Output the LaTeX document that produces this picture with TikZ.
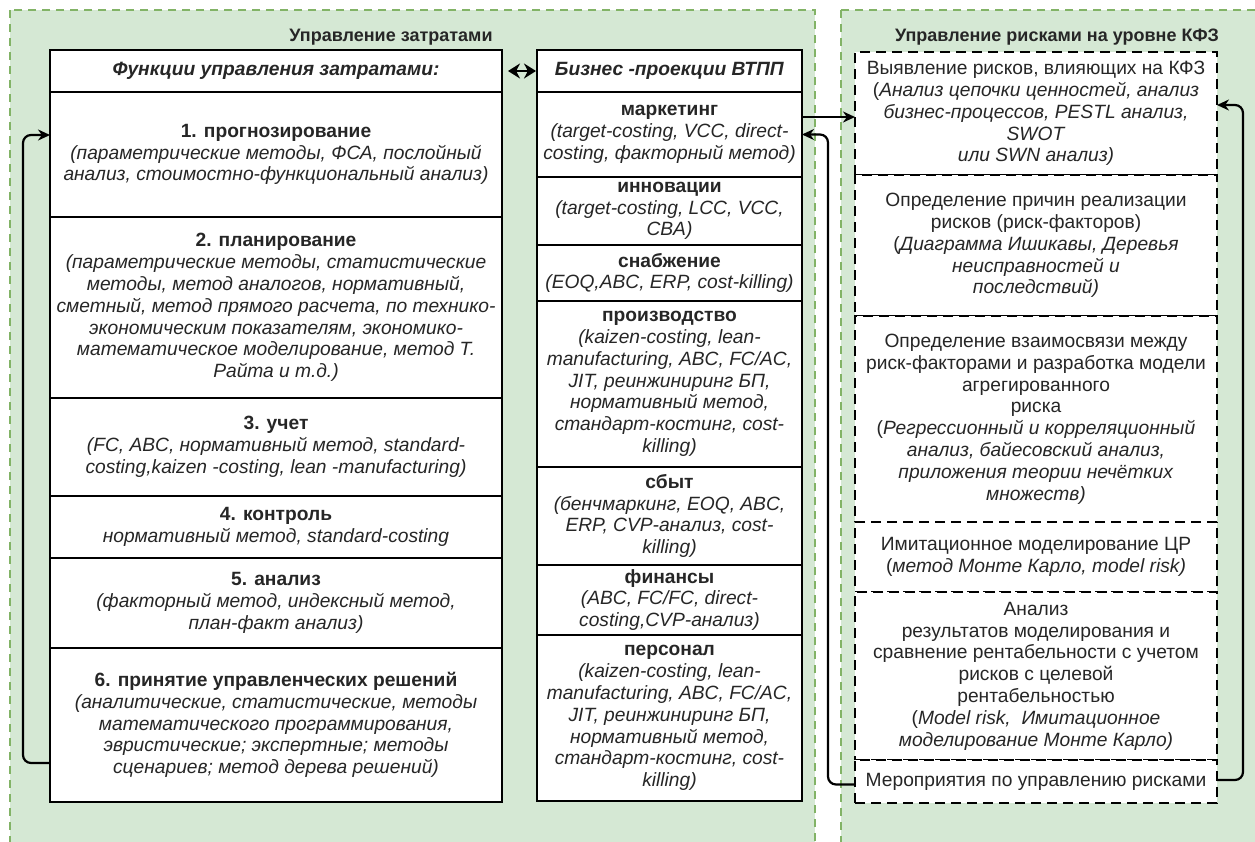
\documentclass[tikz,border=0pt]{standalone}
\usepackage{fontspec}
\setmainfont{Liberation Sans}
\usetikzlibrary{arrows.meta}
\definecolor{panelfill}{HTML}{D5E8D4}
\definecolor{panelline}{HTML}{82B366}
\definecolor{txt}{HTML}{262626}
\newcommand\ti[1]{\textit{#1}}
\begin{document}
\begin{tikzpicture}[x=1pt,y=-1pt,
  panel/.style={fill=panelfill,draw=panelline,line width=2.6pt,dash pattern=on 8pt off 6pt},
  boxbase/.style={draw=black,line width=2.2pt,fill=white,inner sep=0pt,outer sep=0pt,
    align=center,text=txt,font=\fontsize{19.2}{21.8}\selectfont},
  lcell/.style={boxbase,minimum width=452pt},
  mcell/.style={boxbase,minimum width=265pt},
  rcell/.style={boxbase,minimum width=362pt,dash pattern=on 10pt off 6pt},
  ptitle/.style={inner sep=0pt,text=txt,font=\fontsize{18}{21}\selectfont\bfseries},
  conn/.style={draw=black,line width=2.2pt,rounded corners=8pt,-{Stealth[length=12pt,width=11pt]}},
  dtip/.style={line width=2.2pt,{Stealth[length=12pt,width=15pt]}-{Stealth[length=12pt,width=15pt]}}
]
\useasboundingbox (0,0) rectangle (1255,841);
\clip (0,0) rectangle (1255,841);
\fill[white] (0,0) rectangle (1255,841);

% two background panels
\draw[panel] (10,10) rectangle (815,870);
\draw[panel] (841,10) rectangle (1280,870);
\node[ptitle] (tl) at (391,37) {Управление затратами};
\node[ptitle] (tr) at (1057,37) {Управление рисками на уровне КФЗ};

% cost management functions
\node[lcell,minimum height=42pt] (lh) at (276,71) {\textbf{\textit{Функции управления затратами:}}};
\node[lcell,minimum height=125pt] (f1) at (276,154.5) {\textbf{1. прогнозирование}\\
  \ti{(параметрические методы, ФСА, послойный}\\
  \ti{анализ, стоимостно-функциональный анализ)}};
\node[lcell,minimum height=181pt] (f2) at (276,307.5) {\textbf{2. планирование}\\
  \ti{(параметрические методы, статистические}\\
  \ti{методы, метод аналогов, нормативный,}\\
  \ti{сметный, метод прямого расчета, по технико-}\\
  \ti{экономическим показателям, экономико-}\\
  \ti{математическое моделирование, метод Т.}\\
  \ti{Райта и т.д.)}};
\node[lcell,minimum height=98pt] (f3) at (276,447) {\textbf{3. учет}\\
  \ti{(FC, ABC, нормативный метод, standard-}\\
  \ti{costing,kaizen -costing, lean -manufacturing)}};
\node[lcell,minimum height=62pt] (f4) at (276,527) {\textbf{4. контроль}\\
  \ti{нормативный метод, standard-costing}};
\node[lcell,minimum height=90pt] (f5) at (276,603) {\textbf{5. анализ}\\
  \ti{(факторный метод, индексный метод,}\\
  \ti{план-факт анализ)}};
\node[lcell,minimum height=154pt] (f6) at (276,725) {\textbf{6. принятие управленческих решений}\\
  \ti{(аналитические, статистические, методы}\\
  \ti{математического программирования,}\\
  \ti{эвристические; экспертные; методы}\\
  \ti{сценариев; метод дерева решений)}};

% business projections
\node[mcell,minimum height=42pt] (mh) at (669.5,71) {\textbf{\textit{Бизнес -проекции ВТПП}}};
\node[mcell,minimum height=85pt] (m1) at (669.5,134.5) {\textbf{маркетинг}\\
  \ti{(target-costing, VCC, direct-}\\
  \ti{costing, факторный метод)}};
\node[mcell,minimum height=68pt] (m2) at (669.5,211) {\textbf{инновации}\\
  \ti{(target-costing, LCC, VCC,}\\
  \ti{CBA)}};
\node[mcell,minimum height=56pt] (m3) at (669.5,273) {\textbf{снабжение}\\
  \ti{(EOQ,ABC, ERP, cost-killing)}};
\node[mcell,minimum height=166pt] (m4) at (669.5,384) {\textbf{производство}\\
  \ti{(kaizen-costing, lean-}\\
  \ti{manufacturing, ABC, FC/AC,}\\
  \ti{JIT, реинжиниринг БП,}\\
  \ti{нормативный метод,}\\
  \ti{стандарт-костинг, cost-}\\
  \ti{killing)}};
\node[mcell,minimum height=98pt] (m5) at (669.5,516) {\textbf{сбыт}\\
  \ti{(бенчмаркинг, EOQ, ABC,}\\
  \ti{ERP, CVP-анализ, cost-}\\
  \ti{killing)}};
\node[mcell,minimum height=70pt] (m6) at (669.5,600) {\textbf{финансы}\\
  \ti{(ABC, FC/FC, direct-}\\
  \ti{costing,CVP-анализ)}};
\node[mcell,minimum height=166pt] (m7) at (669.5,718) {\textbf{персонал}\\
  \ti{(kaizen-costing, lean-}\\
  \ti{manufacturing, ABC, FC/AC,}\\
  \ti{JIT, реинжиниринг БП,}\\
  \ti{нормативный метод,}\\
  \ti{стандарт-костинг, cost-}\\
  \ti{killing)}};

% risk management steps
\node[rcell,minimum height=123pt] (r1) at (1036,113.5) {Выявление рисков, влияющих на КФЗ\\
  (\ti{Анализ цепочки ценностей, анализ}\\
  \ti{бизнес-процессов, PESTL анализ,}\\
  \ti{SWOT}\\
  \ti{или SWN анализ)}};
\node[rcell,minimum height=141pt] (r2) at (1036,245.5) {Определение причин реализации\\
  рисков (риск-факторов)\\
  (\ti{Диаграмма Ишикавы, Деревья}\\
  \ti{неисправностей и}\\
  \ti{последствий)}};
\node[rcell,minimum height=206pt] (r3) at (1036,419) {Определение взаимосвязи между\\
  риск-факторами и разработка модели\\
  агрегированного\\
  риска\\
  (\ti{Регрессионный и корреляционный}\\
  \ti{анализ, байесовский анализ,}\\
  \ti{приложения теории нечётких}\\
  \ti{множеств)}};
\node[rcell,minimum height=70pt] (r4) at (1036,557) {Имитационное моделирование ЦР\\
  (\ti{метод Монте Карло, model risk)}};
\node[rcell,minimum height=168pt] (r5) at (1036,676) {Анализ\\
  результатов моделирования и\\
  сравнение рентабельности с учетом\\
  рисков с целевой\\
  рентабельностью\\
  (\ti{Model risk,\ \ Имитационное}\\
  \ti{моделирование Монте Карло)}};
\node[rcell,minimum height=43pt] (r6) at (1036,781.5) {Мероприятия по управлению рисками};

% connectors
\draw[dtip] ([xshift=6pt]lh.east) -- ([xshift=-1pt]mh.west);
\draw[conn] ([yshift=-38pt]f6.west) -- ++(-27,0) |- ([yshift=19.5pt]f1.west);
\draw[conn] ([yshift=17.5pt]m1.east) -- ([yshift=17.5pt]m1.east -| r1.west);
\draw[conn] ([yshift=-3pt]r6.west) -- ++(-27,0) |- (m1.east);
\draw[conn] ([yshift=1.5pt]r6.east) -- ++(26,0) |- ([yshift=8.5pt]r1.east);
\end{tikzpicture}
\end{document}
